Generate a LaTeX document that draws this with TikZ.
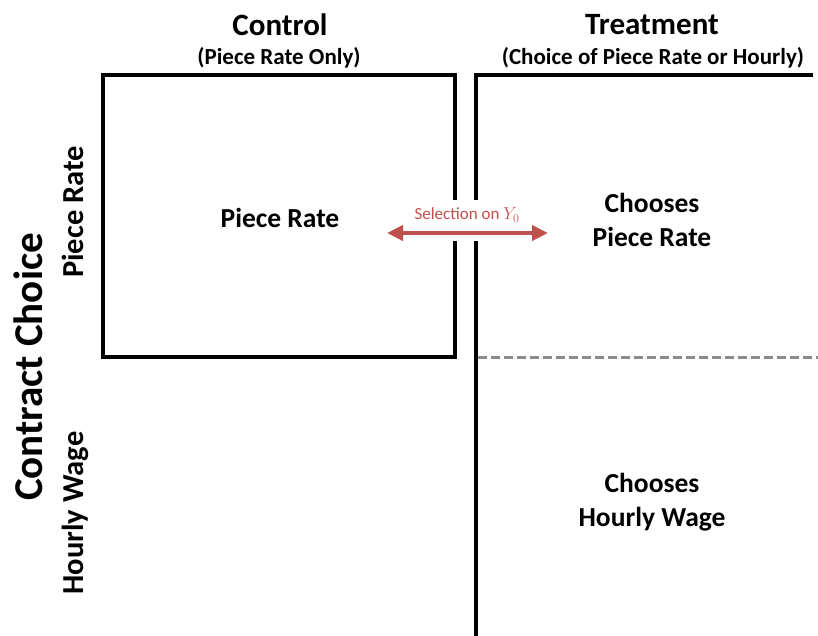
\documentclass[tikz,border=0pt]{standalone}
\usepackage{fontspec}
\setmainfont{Carlito}
\usetikzlibrary{arrows.meta}
\definecolor{selred}{HTML}{C0504D}
\definecolor{dashgray}{HTML}{8C8C8C}

\begin{document}
\begin{tikzpicture}[x=1pt, y=-1pt, every node/.style={align=center},
  big/.style={font=\bfseries\fontsize{31}{34}\selectfont},
  sub/.style={font=\bfseries\fontsize{23}{26}\selectfont},
  cell/.style={font=\bfseries\fontsize{27.5}{34}\selectfont},
  rowhead/.style={font=\bfseries\fontsize{30.5}{34}\selectfont, rotate=90, anchor=base},
  frame/.style={line width=3.5pt}]
\useasboundingbox (0,0) rectangle (818,635);
% column heads
\node[big] (ctl) at (280,25) {Control};
\node[sub] (ctlsub) at (279,58) {(Piece Rate Only)};
\node[big] (trt) at (652,25) {Treatment};
\node[sub] (trtsub) at (653,58) {(Choice of Piece Rate or Hourly)};
% row heads
\node[rowhead, font=\bfseries\fontsize{41}{44}\selectfont] (axis) at (42,367) {Contract Choice};
\node[rowhead] (rowpr) at (83,212) {Piece Rate};
\node[rowhead] (rowhw) at (83,513) {Hourly Wage};
% frames
\draw[frame] (103,75) rectangle (455,357);
\draw[frame] (813,75) -- (476,75) -- (476,640);
\draw[dashgray, line width=3pt, dash pattern=on 9pt off 4pt] (478,357) -- (818,357);
% cells
\node[cell] (cpr) at (280,218) {Piece Rate};
\node[cell] (tpr) at (652,220) {Chooses\\Piece Rate};
\node[cell] (thw) at (652,502) {Chooses\\Hourly Wage};
% selection arrow
\fill[white] (440,200) rectangle (492,241);
\node[text=selred, font=\fontsize{17}{19}\selectfont] (sel) at (467,215) {Selection on $Y_0$};
\coordinate (selL) at (387,233);
\coordinate (selR) at (548,233);
\draw[selred, line width=4.5pt, {Triangle[length=16pt,width=15pt]}-{Triangle[length=16pt,width=15pt]}] (selL) -- (selR);
\end{tikzpicture}
\end{document}
